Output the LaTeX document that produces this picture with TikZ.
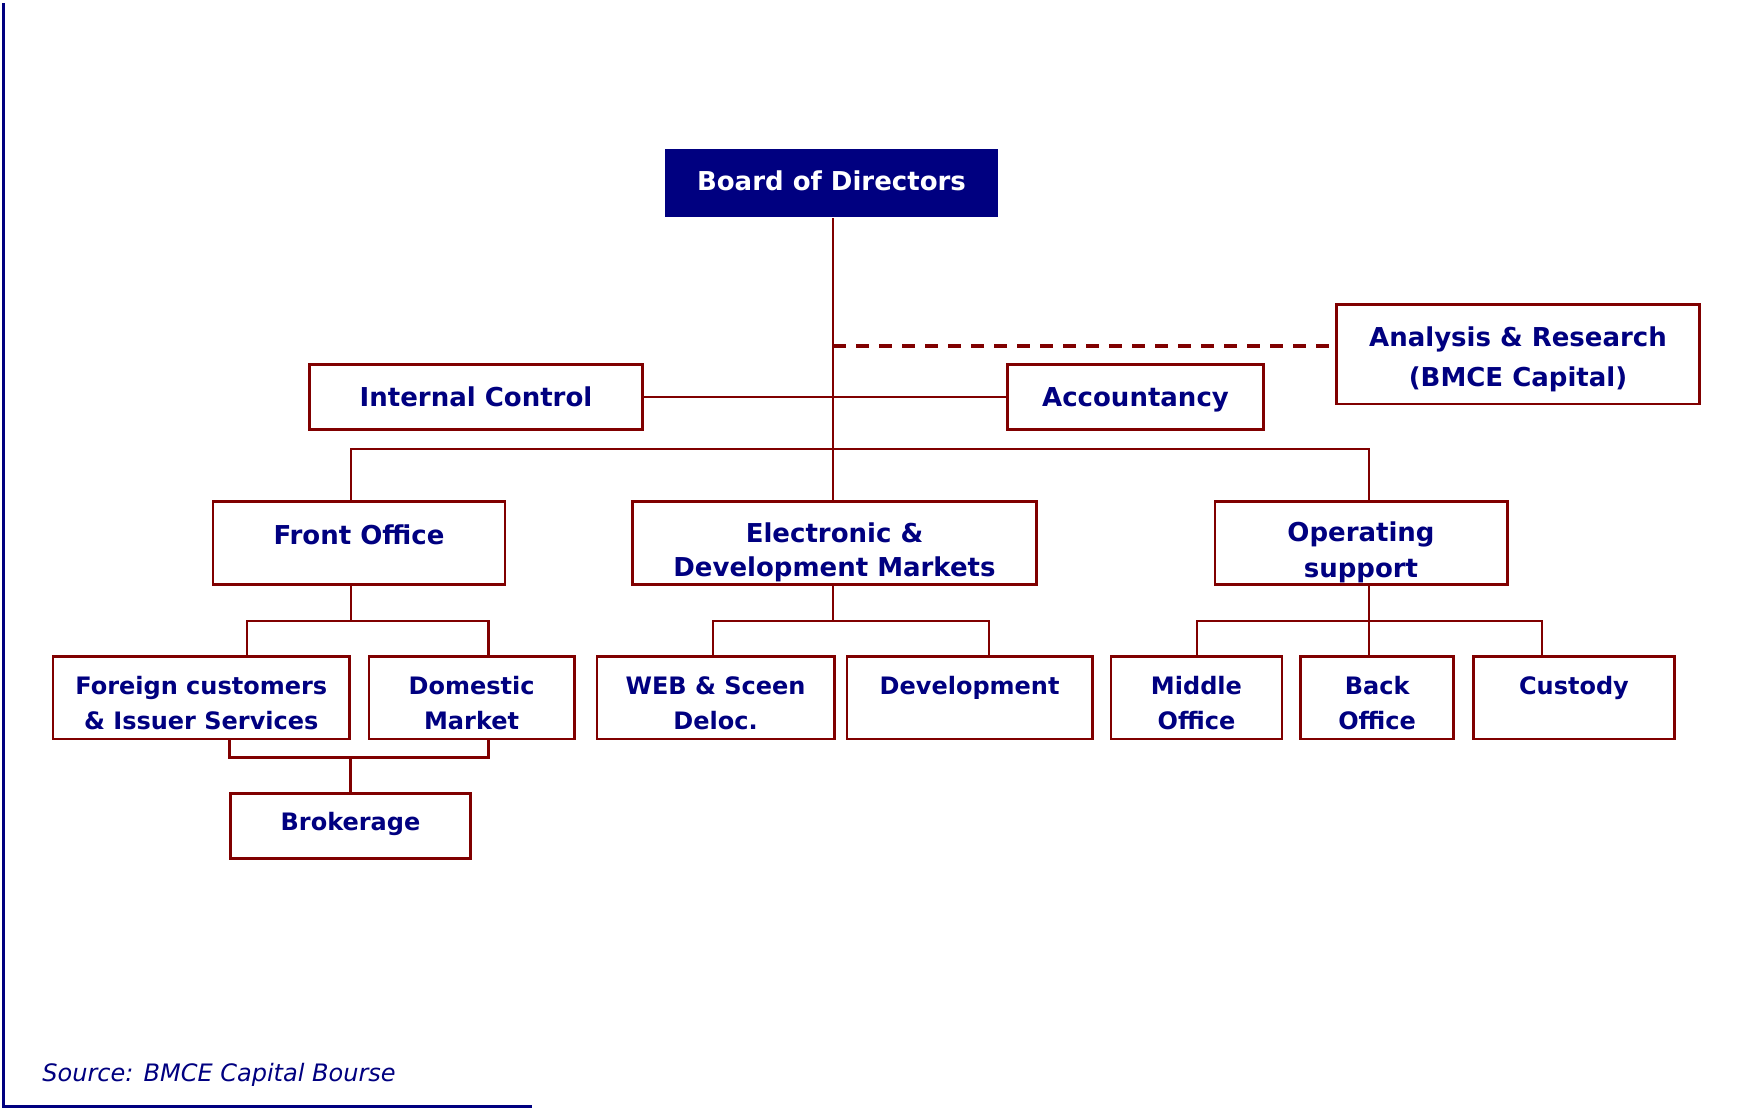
\documentclass[tikz,border=0pt]{standalone}
\usepackage{fontspec}
\setmainfont{DejaVu Sans}
\usepackage{tikz}
\usetikzlibrary{positioning}
\definecolor{orgnavy}{RGB}{0,0,128}
\definecolor{orgred}{RGB}{128,0,0}
\newcommand{\firstheight}{0.92\baselineskip}
\newcommand{\linestrut}{\rule[-0.08\baselineskip]{0pt}{0.92\baselineskip}}
\newcommand{\tallstrut}{\rule[-5.25pt]{0pt}{14.75pt}}
\newcommand{\twoline}[2]{\rule{0pt}{\firstheight}#1\\\linestrut#2}
\tikzset{
    orgbox/.style={draw=orgred, line width=1.3pt, fill=white, text=orgnavy, align=center, inner xsep=2pt, inner ysep=0.5pt, font=\bfseries\fontsize{13}{17}\selectfont, minimum height=41.3pt, execute at begin node={\def\firstheight{1.15\baselineskip}}},
    orgsmall/.style={orgbox, font=\bfseries\fontsize{12}{17.5}\selectfont, execute at begin node={\def\firstheight{0.92\baselineskip}}},
    orgflat/.style={orgbox, minimum height=32.7pt, text height=9.5pt, text depth=0pt},
    orgwide/.style={orgbox, font=\bfseries\fontsize{13}{20}\selectfont, minimum height=49.8pt},
    orgtop/.style={orgflat, draw=none, fill=orgnavy, text=white, minimum height=34pt, text depth=2pt},
    orgline/.style={draw=orgred, line width=1.4pt},
    orgdash/.style={orgline, line width=1.6pt, dash pattern=on 6.5pt off 5pt},
    orgframe/.style={draw=orgnavy, line width=1.3pt},
    orgnote/.style={text=orgnavy, font=\itshape\fontsize{12}{14}\selectfont, inner sep=0pt}
}

\begin{document}
\begin{tikzpicture}[x=0.5pt, y=-0.5pt, node distance=8pt]
        \useasboundingbox (0,0) rectangle (1747,1108);
        \draw[orgframe] (3.7,3) -- (3.7,1106.5) -- (532,1106.5);
        \node[orgtop, minimum width=166.5pt] (board) at (831.5,183) {Board of Directors};
        \node[orgwide, minimum width=181.7pt] (analysis) at (1518,354) {\rule{0pt}{18pt}Analysis \& Research\\\tallstrut(BMCE Capital)};
        \node[orgflat, minimum width=166.7pt] (internal) at (476,397) {Internal Control};
        \node[orgflat, minimum width=128.2pt] (account) at (1135.5,397) {Accountancy};
        \node[orgbox, minimum width=146pt] (front) at (359,543) {\twoline{Front Office}{}};
        \node[orgbox, minimum width=202.2pt] (elec) at (834.5,543) {\twoline{Electronic \&}{Development Markets}};
        \node[orgbox, minimum width=146.2pt] (oper) at (1361,543) {\twoline{Operating}{support}};
        \node[orgsmall, minimum width=148.2pt] (foreign) at (201.3,697.5) {\twoline{Foreign customers}{\& Issuer Services}};
        \node[orgsmall, minimum width=102.7pt, right=8.4pt of foreign] (domestic) {\twoline{Domestic}{Market}};
        \node[orgsmall, minimum width=118.7pt, right=10pt of domestic] (web) {\twoline{WEB \& Sceen}{Deloc.}};
        \node[orgsmall, minimum width=122.7pt, right=5pt of web] (devel) {\twoline{Development}{}};
        \node[orgsmall, minimum width=85.35pt, right=8.1pt of devel] (middle) {\twoline{Middle}{Office}};
        \node[orgsmall, minimum width=76.55pt, right=8.1pt of middle] (back) {\twoline{Back}{Office}};
        \node[orgsmall, minimum width=100.45pt, right=8.6pt of back] (custody) {\twoline{Custody}{}};
        \node[orgflat, font=\bfseries\fontsize{12}{14}\selectfont, minimum width=120.2pt, text height=8.75pt, text depth=4.5pt] (brokerage) at (350.5,826) {Brokerage};
        \node[orgnote, anchor=base west] (source) at (42,1081) {Source: BMCE Capital Bourse};

        \coordinate (trunk) at (833,449);
        \coordinate (busL) at (351,449);
        \coordinate (busR) at (1369,449);
        \coordinate (fsubL) at (247,621);
        \coordinate (fsubR) at (488.5,621);
        \coordinate (esubL) at (713,621);
        \coordinate (esubR) at (989,621);
        \coordinate (osubL) at (1197,621);
        \coordinate (osubR) at (1542,621);
        \coordinate (brL) at (229.4,757.3);
        \coordinate (brR) at (488.5,757.3);

        \draw[orgline] (board.south -| trunk) -- (elec.north -| trunk);
        \draw[orgdash] ([yshift=4pt]analysis.west -| trunk) -- ([yshift=4pt]analysis.west);
        \draw[orgline] (internal.east) -- (account.west);
        \draw[orgline] (front.north -| busL) -- (busL) -- (busR) -- (oper.north -| busR);
        \draw[orgline] (front.south -| busL) -- (fsubL -| busL);
        \draw[orgline] (foreign.north -| fsubL) -- (fsubL) -- (fsubR) -- (domestic.north -| fsubR);
        \draw[orgline] (elec.south -| trunk) -- (esubL -| trunk);
        \draw[orgline] (web.north -| esubL) -- (esubL) -- (esubR) -- (devel.north -| esubR);
        \draw[orgline] (oper.south -| busR) -- (back.north -| busR);
        \draw[orgline] (middle.north -| osubL) -- (osubL) -- (osubR) -- (custody.north -| osubR);
        \draw[orgline] (foreign.south -| brL) -- (brL) -- (brR) -- (domestic.south -| brR);
        \draw[orgline] (brokerage.north) -- (brokerage.north |- brL);
\end{tikzpicture}
\end{document}
